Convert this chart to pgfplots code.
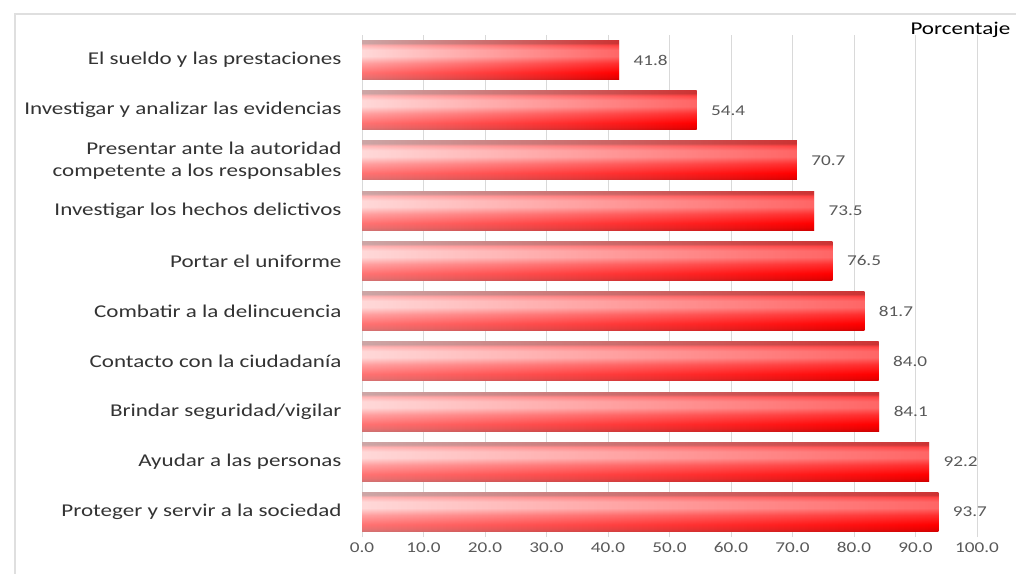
\documentclass[border=0pt]{standalone}
\usepackage{fontspec}
\setmainfont{Carlito}[FakeStretch=1.28]
\usepackage{pgfplots}
\pgfplotsset{compat=1.18}
\definecolor{lbl}{HTML}{333333}
\definecolor{tk}{HTML}{595959}
\pgfdeclareverticalshading{gloss}{100bp}{
  color(0bp)=(red!55!black);
  color(25bp)=(red!55!black);
  color(28.5bp)=(red!80!black);
  color(34bp)=(red);
  color(46bp)=(red!55!white);
  color(55bp)=(white);
  color(63bp)=(white);
  color(69bp)=(red!35!white);
  color(72bp)=(gray);
  color(75bp)=(gray);
  color(100bp)=(gray)}
\pgfplotsset{
  mybar/.style={xbar, bar width=39pt, bar shift=0pt, draw=none,
    left color=red!25!white, right color=red,
    nodes near coords,
    nodes near coords style={anchor=west, xshift=11pt, font=\fontsize{15}{18}\selectfont, text=tk,
      /pgf/number format/.cd, fixed, fixed zerofill, precision=1}},
  overbar/.style={xbar, bar width=39pt, bar shift=0pt, draw=none,
    /tikz/shade, /tikz/shading=gloss, fill opacity=0.4},
}
\begin{document}
\begin{tikzpicture}[x=1pt,y=1pt]
\useasboundingbox (0,0) rectangle (1016,573);
\clip (0,0) rectangle (1016,573);
\fill[white] (0,0) rectangle (1016,573);
\draw[gray!25, line width=1.5pt] (15,-20) -- (15,559) -- (1040,559);
\begin{axis}[
  at={(362pt,36pt)}, anchor=south west,
  scale only axis, width=615pt, height=502pt,
  xmin=0, xmax=100, ymin=-0.5, ymax=9.5,
  xtick={0,10,...,100},
  xticklabel={\pgfmathprintnumber[fixed,fixed zerofill,precision=1]{\tick}},
  /pgf/number format/assume math mode=true,
  ytick={0,...,9},
  yticklabels={Proteger y servir a la sociedad, Ayudar a las personas, Brindar seguridad/vigilar, Contacto con la ciudadanía, Combatir a la delincuencia, Portar el uniforme, Investigar los hechos delictivos, {Presentar ante la autoridad\\competente a los responsables}, Investigar y analizar las evidencias, El sueldo y las prestaciones},
  yticklabel style={align=right, font=\fontsize{18}{22}\selectfont, text=lbl, xshift=-17pt},
  xticklabel style={font=\fontsize{15}{18}\selectfont, text=tk, yshift=-2pt},
  axis line style={draw=none},
  tick style={draw=none},
  xmajorgrids, major grid style={gray!30, line width=0.8pt},
  clip=false,
]
\addplot[mybar] coordinates {(93.7,0)};
\addplot[overbar] coordinates {(93.7,0)};
\addplot[mybar] coordinates {(92.2,1)};
\addplot[overbar] coordinates {(92.2,1)};
\addplot[mybar] coordinates {(84.1,2)};
\addplot[overbar] coordinates {(84.1,2)};
\addplot[mybar] coordinates {(84.0,3)};
\addplot[overbar] coordinates {(84.0,3)};
\addplot[mybar] coordinates {(81.7,4)};
\addplot[overbar] coordinates {(81.7,4)};
\addplot[mybar] coordinates {(76.5,5)};
\addplot[overbar] coordinates {(76.5,5)};
\addplot[mybar] coordinates {(73.5,6)};
\addplot[overbar] coordinates {(73.5,6)};
\addplot[mybar] coordinates {(70.7,7)};
\addplot[overbar] coordinates {(70.7,7)};
\addplot[mybar] coordinates {(54.4,8)};
\addplot[overbar] coordinates {(54.4,8)};
\addplot[mybar] coordinates {(41.8,9)};
\addplot[overbar] coordinates {(41.8,9)};
\end{axis}
\node[anchor=west, font=\fontsize{18}{20}\selectfont, text=black] at (907,543) {Porcentaje};
\end{tikzpicture}
\end{document}
